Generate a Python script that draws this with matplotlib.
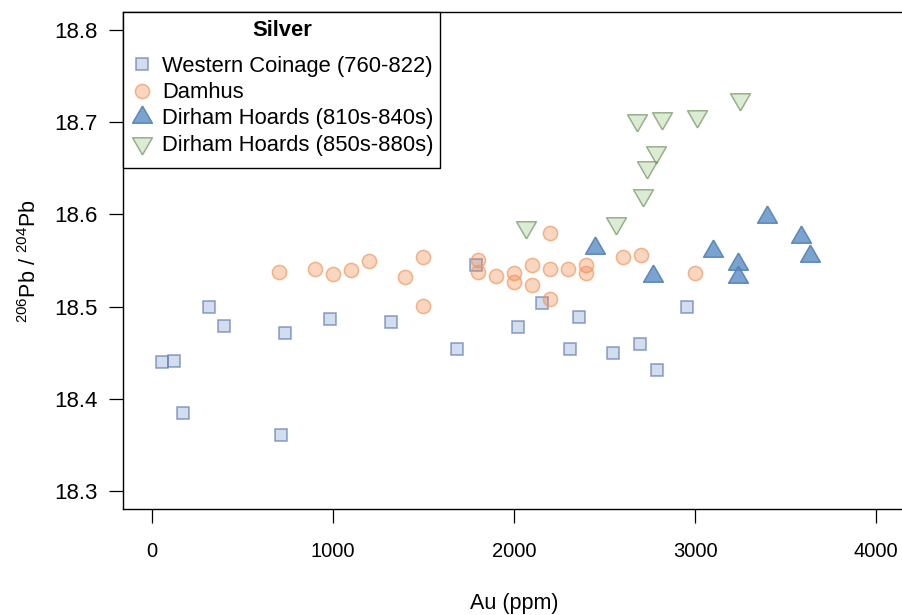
import matplotlib
matplotlib.use("Agg")
import matplotlib.pyplot as plt
from matplotlib.lines import Line2D
from matplotlib.patches import Rectangle

plt.rcParams['font.family'] = ['Liberation Sans', 'DejaVu Sans']
plt.rcParams['mathtext.fontset'] = 'custom'
plt.rcParams['mathtext.rm'] = 'Liberation Sans'
plt.rcParams['mathtext.it'] = 'Liberation Sans:italic'
plt.rcParams['mathtext.bf'] = 'Liberation Sans:bold'

# ---- data ----
western_au = [56, 119, 170, 316, 397, 712, 737, 982, 1319, 1684, 1792, 2021,
              2157, 2312, 2361, 2549, 2698, 2792, 2958]
western_pb = [18.440, 18.441, 18.384, 18.500, 18.479, 18.360, 18.471, 18.486,
              18.483, 18.454, 18.545, 18.478, 18.504, 18.454, 18.489, 18.450,
              18.459, 18.431, 18.499]

damhus_au = [700, 900, 1000, 1100, 1200, 1400, 1500, 1500, 1800, 1800, 1900,
             2000, 2000, 2100, 2100, 2200, 2200, 2200, 2300, 2400, 2400, 2600,
             2700, 3000]
damhus_pb = [18.537, 18.541, 18.535, 18.540, 18.550, 18.532, 18.554, 18.501,
             18.551, 18.537, 18.533, 18.536, 18.527, 18.545, 18.523, 18.541,
             18.580, 18.508, 18.541, 18.545, 18.536, 18.554, 18.556, 18.536]

dirham1_au = [2448, 2770, 3101, 3240, 3236, 3398, 3584, 3635]
dirham1_pb = [18.564, 18.533, 18.560, 18.546, 18.532, 18.597, 18.575, 18.555]

dirham2_au = [2067, 2566, 2711, 2737, 2787, 2678, 2820, 3009, 3251]
dirham2_pb = [18.586, 18.591, 18.621, 18.652, 18.668, 18.703, 18.705, 18.707,
              18.725]

labels = ["Western Coinage (760-822)", "Damhus",
          "Dirham Hoards (810s-840s)", "Dirham Hoards (850s-880s)"]
x_ticks = [0, 1000, 2000, 3000, 4000]
y_ticks = [18.3, 18.4, 18.5, 18.6, 18.7, 18.8]

# ---- styles ----
def rgba(r, g, b, a):
    return (r / 255, g / 255, b / 255, a)

tri_up = [(0, 1), (-0.866, -0.5), (0.866, -0.5), (0, 1)]
tri_dn = [(0, -1), (-0.866, 0.5), (0.866, 0.5), (0, -1)]

styles = [
    dict(marker='s', ms=9.2, mfc=rgba(126, 158, 209, 0.35), mec=rgba(91, 119, 176, 0.7)),
    dict(marker='o', ms=10.2, mfc=rgba(241, 135, 75, 0.35), mec=rgba(239, 154, 96, 0.7)),
    dict(marker=tri_up, ms=16.5, mfc=rgba(89, 141, 196, 0.8), mec=rgba(80, 125, 180, 0.85)),
    dict(marker=tri_dn, ms=16.5, mfc=rgba(155, 198, 129, 0.35), mec=rgba(114, 149, 99, 0.7)),
]
series = [(western_au, western_pb), (damhus_au, damhus_pb),
          (dirham1_au, dirham1_pb), (dirham2_au, dirham2_pb)]

W, H = 903, 615
fig = plt.figure(figsize=(W / 100, H / 100), dpi=100)
L, R, T, B = 123, 905, 12, 509
ax = fig.add_axes([L / W, (H - B) / H, (R - L) / W, (B - T) / H])

for (xs, ys), st in zip(series, styles):
    ax.plot(xs, ys, linestyle='none', marker=st['marker'], markersize=st['ms'],
            markerfacecolor=st['mfc'], markeredgecolor=st['mec'],
            markeredgewidth=1.1, clip_on=False)

ax.set_xlim(-160, 4160)
ax.set_ylim(18.28, 18.82)
ax.set_xticks(x_ticks)
ax.set_xticklabels([str(v) for v in x_ticks])
ax.set_yticks(y_ticks)
ax.set_yticklabels([f"{v:.1f}" for v in y_ticks])
ax.tick_params(axis='both', direction='out', length=10, width=0.9, color='black')
ax.tick_params(axis='x', labelsize=14.5, pad=13.5)
ax.tick_params(axis='y', labelsize=16, pad=8)
for s in ax.spines.values():
    s.set_linewidth(1.0)
    s.set_color('black')
ax.spines['right'].set_visible(False)

fig.text(514 / W, 1 - 603 / H, "Au (ppm)", ha='center', va='center', fontsize=15.5)
fig.text(30 / W, 1 - 261 / H, r"$^{206}$Pb / $^{204}$Pb", ha='center', va='center',
         rotation=90, fontsize=15.5)

# legend frame (pixel box 123..440 x 12..168)
fx0, fx1, fy0, fy1 = 123, 440, 12, 168
frame = Rectangle(((fx0 - L) / (R - L), (B - fy1) / (B - T)),
                  (fx1 - fx0) / (R - L), (fy1 - fy0) / (B - T),
                  transform=ax.transAxes, facecolor='white', edgecolor='black',
                  linewidth=1.0, zorder=4.5, clip_on=False)
ax.add_patch(frame)

handles = [Line2D([], [], linestyle='none', marker=st['marker'], markersize=st['ms'],
                  markerfacecolor=st['mfc'], markeredgecolor=st['mec'], markeredgewidth=1.1)
           for st in styles]
leg = ax.legend(handles, labels, title="Silver", loc='upper left',
                bbox_to_anchor=(0, 1), borderaxespad=0, fontsize=15.8,
                title_fontproperties={'weight': 'bold', 'size': 15.8},
                frameon=False, handlelength=1.0, handletextpad=0.45,
                labelspacing=0.24, borderpad=0.35)
leg.set_zorder(6)
leg._legend_box.sep = 11

fig.savefig("out.png", dpi=100)
